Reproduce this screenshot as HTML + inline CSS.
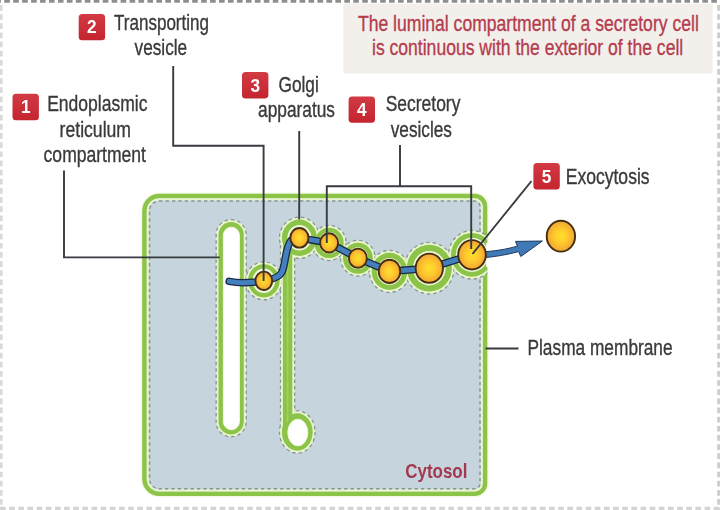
<!DOCTYPE html>
<html lang="en"><head><meta charset="utf-8"><title>Secretory pathway</title>
<style>
html,body{margin:0;padding:0;background:#fff;}
body{width:720px;height:510px;overflow:hidden;}
svg{display:block;font-family:"Liberation Sans",Arial,Helvetica,sans-serif;}
#art{filter:blur(0.45px);}
</style></head><body>
<svg width="720" height="510" viewBox="0 0 720 510">
<defs>
<radialGradient id="vg" cx="50%" cy="50%" r="50%">
<stop offset="0" stop-color="#ffe02e"/><stop offset="0.5" stop-color="#fdc82c"/><stop offset="1" stop-color="#f2a336"/>
</radialGradient>
<linearGradient id="bg" x1="0" y1="0" x2="0" y2="1"><stop offset="0" stop-color="#d23a44"/><stop offset="1" stop-color="#c4252f"/></linearGradient>
<clipPath id="cellclip"><rect x="140" y="190" width="347.3" height="310"/></clipPath>
</defs>
<rect width="720" height="510" fill="#fff"/>
<g id="art">

<line x1="-4.7" y1="1.3" x2="724" y2="1.3" stroke="#8e8e8e" stroke-width="2.7" stroke-dasharray="5.6 3.35"/>
<line x1="1.3" y1="5" x2="1.3" y2="510" stroke="#d9d9d9" stroke-width="2.6" stroke-dasharray="5.7 3.45"/>
<line x1="718.6" y1="5" x2="718.6" y2="510" stroke="#cdcdcd" stroke-width="2.8" stroke-dasharray="5.7 3.45"/>
<line x1="0" y1="508.4" x2="720" y2="508.4" stroke="#d4d4d4" stroke-width="3.2" stroke-dasharray="5.7 3.45"/>
<rect x="343.4" y="3.6" width="369.2" height="70" fill="#f3f0ec"/>
<text x="357.9" y="30.8" textLength="340.9" lengthAdjust="spacingAndGlyphs" font-size="22.2" fill="#b43c4e" stroke="#b43c4e" stroke-width="0.35" font-weight="normal" >The luminal compartment of a secretory cell</text>
<text x="372.0" y="55.3" textLength="311.2" lengthAdjust="spacingAndGlyphs" font-size="22.2" fill="#b43c4e" stroke="#b43c4e" stroke-width="0.35" font-weight="normal" >is continuous with the exterior of the cell</text>
<path d="M159.20 193.50 H474.80 A12.80 12.80 0 0 1 487.60 206.30 V483.50 A12.80 12.80 0 0 1 474.80 496.30 H159.20 A17.30 17.30 0 0 1 141.90 479.00 V210.80 A17.30 17.30 0 0 1 159.20 193.50 Z" fill="none" stroke="#f3f9e2" stroke-width="2"/>
<path d="M159.20 196.10 H474.80 A10.20 10.20 0 0 1 485.00 206.30 V483.50 A10.20 10.20 0 0 1 474.80 493.70 H159.20 A14.70 14.70 0 0 1 144.50 479.00 V210.80 A14.70 14.70 0 0 1 159.20 196.10 Z" fill="#c5d4dd" stroke="#8cc44a" stroke-width="4.6"/>
<path d="M159.20 199.40 H474.80 A6.90 6.90 0 0 1 481.70 206.30 V483.50 A6.90 6.90 0 0 1 474.80 490.40 H159.20 A11.40 11.40 0 0 1 147.80 479.00 V210.80 A11.40 11.40 0 0 1 159.20 199.40 Z" fill="none" stroke="#e8f5cc" stroke-width="2.2"/>
<path d="M159.20 201.10 H474.80 A5.20 5.20 0 0 1 480.00 206.30 V483.50 A5.20 5.20 0 0 1 474.80 488.70 H159.20 A9.70 9.70 0 0 1 149.50 479.00 V210.80 A9.70 9.70 0 0 1 159.20 201.10 Z" fill="none" stroke="#8a9695" stroke-width="1.5" stroke-dasharray="3.4 3"/>
<rect x="480" y="242" width="9" height="27" fill="#fff"/>
<g clip-path="url(#cellclip)">
<rect x="216.20" y="219.70" width="29.90" height="217.00" rx="14.95" fill="#e8f5cc" stroke="#8a9695" stroke-width="1.5" stroke-dasharray="3.4 3"/>
<rect x="280.60" y="240" width="14.00" height="195" fill="#e8f5cc" stroke="#8a9695" stroke-width="1.5" stroke-dasharray="3.4 3"/>
<ellipse cx="297.3" cy="432" rx="17.70" ry="21.10" fill="#e8f5cc" stroke="#8a9695" stroke-width="1.5" stroke-dasharray="3.4 3"/>
<ellipse cx="263.8" cy="280.8" rx="18.10" ry="18.90" fill="#e8f5cc" stroke="#8a9695" stroke-width="1.5" stroke-dasharray="3.4 3"/>
<ellipse cx="299.4" cy="237.8" rx="19.80" ry="20.50" fill="#e8f5cc" stroke="#8a9695" stroke-width="1.5" stroke-dasharray="3.4 3"/>
<ellipse cx="329.1" cy="242.9" rx="16.90" ry="17.50" fill="#e8f5cc" stroke="#8a9695" stroke-width="1.5" stroke-dasharray="3.4 3"/>
<ellipse cx="357.9" cy="258.2" rx="17.20" ry="17.80" fill="#e8f5cc" stroke="#8a9695" stroke-width="1.5" stroke-dasharray="3.4 3"/>
<ellipse cx="389.5" cy="271.4" rx="20.10" ry="20.90" fill="#e8f5cc" stroke="#8a9695" stroke-width="1.5" stroke-dasharray="3.4 3"/>
<ellipse cx="429.3" cy="268.2" rx="24.80" ry="25.70" fill="#e8f5cc" stroke="#8a9695" stroke-width="1.5" stroke-dasharray="3.4 3"/>
<ellipse cx="472.0" cy="254.8" rx="23.30" ry="24.20" fill="#e8f5cc" stroke="#8a9695" stroke-width="1.5" stroke-dasharray="3.4 3"/>
<rect x="216.90" y="220.40" width="28.50" height="215.60" rx="14.25" fill="#e8f5cc"/>
<rect x="281.30" y="240" width="12.60" height="195" fill="#e8f5cc"/>
<ellipse cx="297.3" cy="432" rx="17.00" ry="20.40" fill="#e8f5cc"/>
<ellipse cx="263.8" cy="280.8" rx="17.40" ry="18.20" fill="#e8f5cc"/>
<ellipse cx="299.4" cy="237.8" rx="19.10" ry="19.80" fill="#e8f5cc"/>
<ellipse cx="329.1" cy="242.9" rx="16.20" ry="16.80" fill="#e8f5cc"/>
<ellipse cx="357.9" cy="258.2" rx="16.50" ry="17.10" fill="#e8f5cc"/>
<ellipse cx="389.5" cy="271.4" rx="19.40" ry="20.20" fill="#e8f5cc"/>
<ellipse cx="429.3" cy="268.2" rx="24.10" ry="25.00" fill="#e8f5cc"/>
<ellipse cx="472.0" cy="254.8" rx="22.60" ry="23.50" fill="#e8f5cc"/>
<rect x="218.50" y="222.00" width="25.30" height="212.40" rx="12.65" fill="#8cc44a"/>
<rect x="282.90" y="240" width="9.40" height="195" fill="#8cc44a"/>
<ellipse cx="297.3" cy="432" rx="15.40" ry="18.80" fill="#8cc44a"/>
<ellipse cx="263.8" cy="280.8" rx="15.80" ry="16.60" fill="#8cc44a"/>
<ellipse cx="299.4" cy="237.8" rx="17.50" ry="18.20" fill="#8cc44a"/>
<ellipse cx="329.1" cy="242.9" rx="14.60" ry="15.20" fill="#8cc44a"/>
<ellipse cx="357.9" cy="258.2" rx="14.90" ry="15.50" fill="#8cc44a"/>
<ellipse cx="389.5" cy="271.4" rx="17.80" ry="18.60" fill="#8cc44a"/>
<ellipse cx="429.3" cy="268.2" rx="22.50" ry="23.40" fill="#8cc44a"/>
<ellipse cx="472.0" cy="254.8" rx="21.00" ry="21.90" fill="#8cc44a"/>
<rect x="223.4" y="227.2" width="16" height="202.5" rx="8" fill="#fff" stroke="#f1f8dc" stroke-width="1"/>
<ellipse cx="297.8" cy="432.5" rx="10" ry="13.3" fill="#fff" stroke="#f1f8dc" stroke-width="1"/>
<line x1="287.6" y1="262" x2="287.6" y2="422" stroke="#a2cf66" stroke-width="1.6"/>
<ellipse cx="263.8" cy="280.8" rx="11.40" ry="12.20" fill="#f0f7da"/>
<ellipse cx="299.4" cy="237.8" rx="12.00" ry="12.70" fill="#f0f7da"/>
<ellipse cx="329.1" cy="242.9" rx="10.30" ry="10.90" fill="#f0f7da"/>
<ellipse cx="357.9" cy="258.2" rx="10.30" ry="10.90" fill="#f0f7da"/>
<ellipse cx="389.5" cy="271.4" rx="12.60" ry="13.40" fill="#f0f7da"/>
<ellipse cx="429.3" cy="268.2" rx="16.30" ry="17.20" fill="#f0f7da"/>
<ellipse cx="472.0" cy="254.8" rx="16.20" ry="17.10" fill="#f0f7da"/>
</g>
<rect x="486.2" y="243" width="4" height="24" fill="#fff"/>
<path d="M229.2 281.4 C236 282.8 250 283.2 263.8 281 C272 279.5 279 277.5 281.8 272.5 C284 268 284.5 262 285.6 256.5 C286.6 251 288 244.5 291 240.5 L299.4 237.9 L329.1 242.9 L357.9 258.2 L389.5 271.4 L429.3 268.2 L472 254.8" fill="none" stroke="#1c2b48" stroke-width="7.6" stroke-linecap="round" stroke-linejoin="round"/>
<path d="M229.2 281.4 C236 282.8 250 283.2 263.8 281 C272 279.5 279 277.5 281.8 272.5 C284 268 284.5 262 285.6 256.5 C286.6 251 288 244.5 291 240.5 L299.4 237.9 L329.1 242.9 L357.9 258.2 L389.5 271.4 L429.3 268.2 L472 254.8" fill="none" stroke="#447fbe" stroke-width="5.0" stroke-linecap="round" stroke-linejoin="round"/>
<path d="M480 252 C494 251.3 507 249.3 517.4 246 L515.5 241.4 L542.4 241 L520.8 256.5 L518.6 251.6 C507 254.8 494 257 480 258 Z" fill="#3f79b6" stroke="#1e3a60" stroke-width="1" stroke-linejoin="round"/>
<ellipse cx="263.8" cy="280.8" rx="8.40" ry="9.20" fill="url(#vg)" stroke="#44300f" stroke-width="1.9"/>
<ellipse cx="299.4" cy="237.8" rx="9.10" ry="9.80" fill="url(#vg)" stroke="#44300f" stroke-width="1.9"/>
<ellipse cx="329.1" cy="242.9" rx="9.00" ry="9.60" fill="url(#vg)" stroke="#44300f" stroke-width="1.9"/>
<ellipse cx="357.9" cy="258.2" rx="9.00" ry="9.60" fill="url(#vg)" stroke="#44300f" stroke-width="1.9"/>
<ellipse cx="389.5" cy="271.4" rx="10.80" ry="11.60" fill="url(#vg)" stroke="#44300f" stroke-width="1.9"/>
<ellipse cx="429.3" cy="268.2" rx="13.70" ry="14.60" fill="url(#vg)" stroke="#44300f" stroke-width="1.9"/>
<ellipse cx="472.0" cy="254.8" rx="13.80" ry="14.70" fill="url(#vg)" stroke="#44300f" stroke-width="1.9"/>
<ellipse cx="560.9" cy="236.2" rx="14.20" ry="15.40" fill="url(#vg)" stroke="#44300f" stroke-width="1.9"/>
<path d="M64 170.5 V257.4 H219.6" fill="none" stroke="#373b40" stroke-width="1.9"/>
<path d="M173.2 66 V145.8 H263.6 V281" fill="none" stroke="#373b40" stroke-width="1.9"/>
<path d="M299.2 131 V219.5" fill="none" stroke="#373b40" stroke-width="1.9"/>
<path d="M400 145 V186.2 M326.8 243 V186.2 H471.2 V249" fill="none" stroke="#373b40" stroke-width="1.9"/>
<path d="M531.5 181 L472.5 254" fill="none" stroke="#373b40" stroke-width="1.9"/>
<path d="M485.5 348.5 H518.5" fill="none" stroke="#373b40" stroke-width="1.9"/>
<rect x="12.5" y="93.8" width="26.4" height="26.4" rx="3.5" fill="url(#bg)"/><text x="20.9" y="113.3" textLength="9.6" lengthAdjust="spacingAndGlyphs" font-size="17.6" font-weight="bold" fill="#fff">1</text>
<rect x="78.7" y="13.9" width="26.4" height="26.4" rx="3.5" fill="url(#bg)"/><text x="87.1" y="33.4" textLength="9.6" lengthAdjust="spacingAndGlyphs" font-size="17.6" font-weight="bold" fill="#fff">2</text>
<rect x="242.0" y="72.0" width="26.4" height="26.4" rx="3.5" fill="url(#bg)"/><text x="250.4" y="91.5" textLength="9.6" lengthAdjust="spacingAndGlyphs" font-size="17.6" font-weight="bold" fill="#fff">3</text>
<rect x="348.6" y="96.4" width="26.4" height="26.4" rx="3.5" fill="url(#bg)"/><text x="357.0" y="115.9" textLength="9.6" lengthAdjust="spacingAndGlyphs" font-size="17.6" font-weight="bold" fill="#fff">4</text>
<rect x="533.4" y="163.0" width="26.4" height="26.4" rx="3.5" fill="url(#bg)"/><text x="541.8" y="182.5" textLength="9.6" lengthAdjust="spacingAndGlyphs" font-size="17.6" font-weight="bold" fill="#fff">5</text>
<text x="114.0" y="30.2" textLength="95.0" lengthAdjust="spacingAndGlyphs" font-size="21.6" fill="#3a3a3a" stroke="#3a3a3a" stroke-width="0.35" font-weight="normal" >Transporting</text>
<text x="134.6" y="55.2" textLength="52.6" lengthAdjust="spacingAndGlyphs" font-size="21.6" fill="#3a3a3a" stroke="#3a3a3a" stroke-width="0.35" font-weight="normal" >vesicle</text>
<text x="47.2" y="111.2" textLength="100.3" lengthAdjust="spacingAndGlyphs" font-size="21.6" fill="#3a3a3a" stroke="#3a3a3a" stroke-width="0.35" font-weight="normal" >Endoplasmic</text>
<text x="59.6" y="136.6" textLength="71.4" lengthAdjust="spacingAndGlyphs" font-size="21.6" fill="#3a3a3a" stroke="#3a3a3a" stroke-width="0.35" font-weight="normal" >reticulum</text>
<text x="43.6" y="161.6" textLength="102.4" lengthAdjust="spacingAndGlyphs" font-size="21.6" fill="#3a3a3a" stroke="#3a3a3a" stroke-width="0.35" font-weight="normal" >compartment</text>
<text x="278.5" y="91.9" textLength="40.3" lengthAdjust="spacingAndGlyphs" font-size="21.6" fill="#3a3a3a" stroke="#3a3a3a" stroke-width="0.35" font-weight="normal" >Golgi</text>
<text x="258.0" y="117.0" textLength="77.0" lengthAdjust="spacingAndGlyphs" font-size="21.6" fill="#3a3a3a" stroke="#3a3a3a" stroke-width="0.35" font-weight="normal" >apparatus</text>
<text x="385.7" y="110.6" textLength="74.7" lengthAdjust="spacingAndGlyphs" font-size="21.6" fill="#3a3a3a" stroke="#3a3a3a" stroke-width="0.35" font-weight="normal" >Secretory</text>
<text x="390.7" y="137.0" textLength="61.3" lengthAdjust="spacingAndGlyphs" font-size="21.6" fill="#3a3a3a" stroke="#3a3a3a" stroke-width="0.35" font-weight="normal" >vesicles</text>
<text x="565.7" y="184.0" textLength="83.9" lengthAdjust="spacingAndGlyphs" font-size="21.6" fill="#3a3a3a" stroke="#3a3a3a" stroke-width="0.35" font-weight="normal" >Exocytosis</text>
<text x="527.5" y="355.4" textLength="145.1" lengthAdjust="spacingAndGlyphs" font-size="21.6" fill="#3a3a3a" stroke="#3a3a3a" stroke-width="0.35" font-weight="normal" >Plasma membrane</text>
<text x="405.3" y="478.2" textLength="62.1" lengthAdjust="spacingAndGlyphs" font-size="20.6" fill="#a3384f" stroke="#a3384f" stroke-width="0" font-weight="bold" >Cytosol</text>
</g>
</svg>
</body></html>
